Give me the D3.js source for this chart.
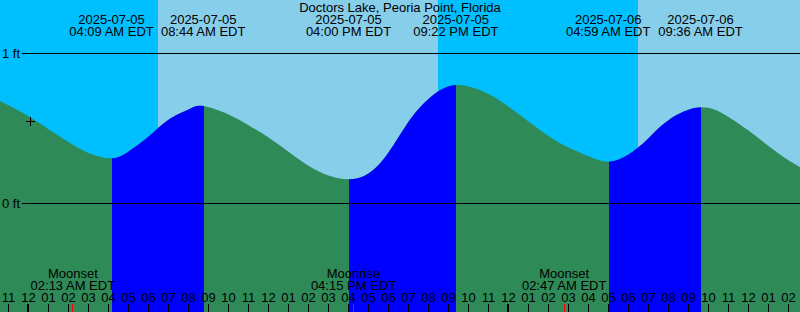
<!DOCTYPE html>
<html>
<head>
<meta charset="utf-8">
<script src="https://cdn.jsdelivr.net/npm/d3@7"></script>
<style>
  body { margin: 0; background: white; }
  svg { display: block; }
  text { font-family: "Liberation Sans", Arial, sans-serif; font-size: 13px; fill: black; }
</style>
</head>
<body>
<svg id="chart" width="800" height="312"></svg>
<script>
var title = 'Doctors Lake, Peoria Point, Florida';
var viewStart = '2025-07-04 22:34:30';
var viewEnd = '2025-07-06 14:34:30';

// tide height, about one value per hour (ft)
var sampleTimes = [
  '2025-07-04 22:00', '2025-07-04 23:00',
  '2025-07-05 00:00', '2025-07-05 01:00', '2025-07-05 02:00', '2025-07-05 03:00',
  '2025-07-05 05:00', '2025-07-05 06:00', '2025-07-05 07:00',
  '2025-07-05 08:00', '2025-07-05 10:00', '2025-07-05 11:00',
  '2025-07-05 12:00', '2025-07-05 13:00', '2025-07-05 14:00', '2025-07-05 15:00',
  '2025-07-05 17:00', '2025-07-05 18:00', '2025-07-05 19:00', '2025-07-05 20:00',
  '2025-07-05 23:00',
  '2025-07-06 00:00', '2025-07-06 01:00', '2025-07-06 02:00', '2025-07-06 03:00',
  '2025-07-06 04:00', '2025-07-06 06:00', '2025-07-06 07:00', '2025-07-06 08:00',
  '2025-07-06 11:00', '2025-07-06 12:00',
  '2025-07-06 13:00', '2025-07-06 14:00', '2025-07-06 15:00'
];
var sampleLevels = [
  0.723, 0.655,
  0.582, 0.495, 0.410, 0.337,
  0.347, 0.447, 0.559,
  0.627, 0.594, 0.522,
  0.440, 0.345, 0.252, 0.186,
  0.200, 0.340, 0.545, 0.697,
  0.730,
  0.645, 0.547, 0.450, 0.373,
  0.315, 0.327, 0.435, 0.555,
  0.577, 0.486,
  0.383, 0.288, 0.210
];

// high / low tide events
var tideTimes = [
  '2025-07-05 04:09', '2025-07-05 08:44', '2025-07-05 16:00',
  '2025-07-05 21:22', '2025-07-06 04:59', '2025-07-06 09:36'
];
var tideLevels = [0.301, 0.650, 0.161, 0.790, 0.279, 0.641];
var tideTypes = ['low', 'high', 'low', 'high', 'low', 'high'];

var sunTimes = ['2025-07-05 06:28', '2025-07-05 20:28', '2025-07-06 06:28'];
var sunTypes = ['rise', 'set', 'rise'];

var moonTimes = ['2025-07-05 02:13', '2025-07-05 16:15', '2025-07-06 02:47'];
var moonNames = ['Moonset', 'Moonrise', 'Moonset'];

var levelTicks = [0, 1];

// current-time mark
var markTime = '2025-07-05 00:05';
var markLevel = 0.547;

var colors = {
  night: '#00BFFF',
  day: '#87CEEB',
  ebb: '#2E8B57',
  flood: '#0000FF',
  mark: '#FF0000'
};

var W = 800, H = 312;
var svg = d3.select('#chart');

var parse = d3.utcParse('%Y-%m-%d %H:%M');
var parseS = d3.utcParse('%Y-%m-%d %H:%M:%S');
var fmtDate = d3.utcFormat('%Y-%m-%d');
var fmtTime = d3.utcFormat('%I:%M %p EDT');
var fmtHour = d3.utcFormat('%I');

var x = d3.scaleUtc()
          .domain([parseS(viewStart), parseS(viewEnd)])
          .range([0, W]);

var y = d3.scaleLinear()
          .domain([0, 1])
          .range([203.5, 53.5]);

// sky: night / day bands
var edges = [x.domain()[0]].concat(sunTimes.map(parse), [x.domain()[1]]);
var bands = [];
for (var i = 0; i < edges.length - 1; i++)
  bands.push({ a: edges[i], b: edges[i + 1], day: i > 0 && sunTypes[i - 1] === 'rise' });

svg.selectAll('.sky')
  .data(bands)
  .enter()
  .append('rect')
    .classed('sky', true)
    .attr('x', d => Math.round(x(d.a)))
    .attr('y', 0)
    .attr('width', d => Math.round(x(d.b)) - Math.round(x(d.a)))
    .attr('height', H)
    .attr('fill', d => d.day ? colors.day : colors.night);

// tide curve
var points = sampleTimes.map((t, i) => ({ t: parse(t), v: sampleLevels[i] }))
  .concat(tideTimes.map((t, i) => ({ t: parse(t), v: tideLevels[i] })))
  .sort((a, b) => a.t - b.t);

var area = d3.area()
             .x(d => x(d.t))
             .y0(H)
             .y1(d => y(d.v))
             .curve(d3.curveNatural);

svg.append('path')
  .datum(points)
  .attr('d', area)
  .attr('fill', colors.ebb);

// rising water (low -> next high) in flood colour
var floods = [];
tideTimes.forEach((t, i) => {
  if (tideTypes[i] === 'low' && i + 1 < tideTimes.length)
    floods.push({ a: parse(t), b: parse(tideTimes[i + 1]) });
});

var defs = svg.append('defs');
floods.forEach((f, i) => {
  defs.append('clipPath')
      .attr('id', 'flood' + i)
    .append('rect')
      .attr('x', Math.ceil(x(f.a)))
      .attr('y', 0)
      .attr('width', Math.ceil(x(f.b)) - Math.ceil(x(f.a)))
      .attr('height', H);

  svg.append('path')
    .datum(points)
    .attr('d', area)
    .attr('fill', colors.flood)
    .attr('clip-path', 'url(#flood' + i + ')');
});

// level lines
svg.selectAll('.level-line')
  .data(levelTicks)
  .enter()
  .append('line')
    .classed('level-line', true)
    .attr('x1', 22)
    .attr('x2', W)
    .attr('y1', d => y(d))
    .attr('y2', d => y(d))
    .attr('stroke', 'black');

svg.selectAll('.level-label')
  .data(levelTicks)
  .enter()
  .append('text')
    .classed('level-label', true)
    .attr('text-anchor', 'end')
    .attr('x', 20)
    .attr('y', d => y(d) + 4)
    .text(d => d + ' ft');

// title and tide event labels
svg.append('text')
  .attr('text-anchor', 'middle')
  .attr('x', W / 2)
  .attr('y', 12)
  .text(title);

var tideLabels = svg.selectAll('.tide-label')
  .data(tideTimes.map(parse))
  .enter()
  .append('g')
    .classed('tide-label', true)
    .attr('transform', d => `translate(${x(d)},0)`);

tideLabels.append('text')
  .attr('text-anchor', 'middle')
  .attr('y', 24)
  .text(d => fmtDate(d));

tideLabels.append('text')
  .attr('text-anchor', 'middle')
  .attr('y', 36)
  .text(d => fmtTime(d));

// moon events
var moonLabels = svg.selectAll('.moon-label')
  .data(moonTimes.map((t, i) => ({ t: parse(t), name: moonNames[i] })))
  .enter()
  .append('g')
    .classed('moon-label', true)
    .attr('transform', d => `translate(${x(d.t)},0)`);

moonLabels.append('text')
  .attr('text-anchor', 'middle')
  .attr('y', 278)
  .text(d => d.name);

moonLabels.append('text')
  .attr('text-anchor', 'middle')
  .attr('y', 290)
  .text(d => fmtTime(d.t));

// hour axis
var hours = x.ticks(d3.utcHour.every(1));

svg.selectAll('.hour-label')
  .data(hours)
  .enter()
  .append('text')
    .classed('hour-label', true)
    .attr('text-anchor', 'middle')
    .attr('x', d => x(d))
    .attr('y', 302)
    .text(d => fmtHour(d));

svg.selectAll('.hour-tick')
  .data(hours)
  .enter()
  .append('line')
    .classed('hour-tick', true)
    .attr('x1', d => d.getUTCHours() === 0 ? x(d) - 0.5 : x(d))
    .attr('x2', d => d.getUTCHours() === 0 ? x(d) - 0.5 : x(d))
    .attr('y1', 304)
    .attr('y2', H)
    .attr('stroke', 'black')
    .attr('stroke-width', d => d.getUTCHours() === 0 ? 2 : 1);

svg.selectAll('.moon-tick')
  .data(moonTimes.map(parse))
  .enter()
  .append('line')
    .classed('moon-tick', true)
    .attr('x1', d => Math.floor(x(d)) + 0.5)
    .attr('x2', d => Math.floor(x(d)) + 0.5)
    .attr('y1', 304)
    .attr('y2', H)
    .attr('stroke', colors.mark);

// "+" at the current time
var mx = Math.floor(x(parse(markTime))) + 0.5;
var my = Math.floor(y(markLevel)) + 0.5;
svg.append('path')
  .attr('d', `M${mx - 4.5},${my}H${mx + 4.5}M${mx},${my - 4.5}V${my + 4.5}`)
  .attr('stroke', 'black')
  .attr('fill', 'none');
</script>
</body>
</html>
